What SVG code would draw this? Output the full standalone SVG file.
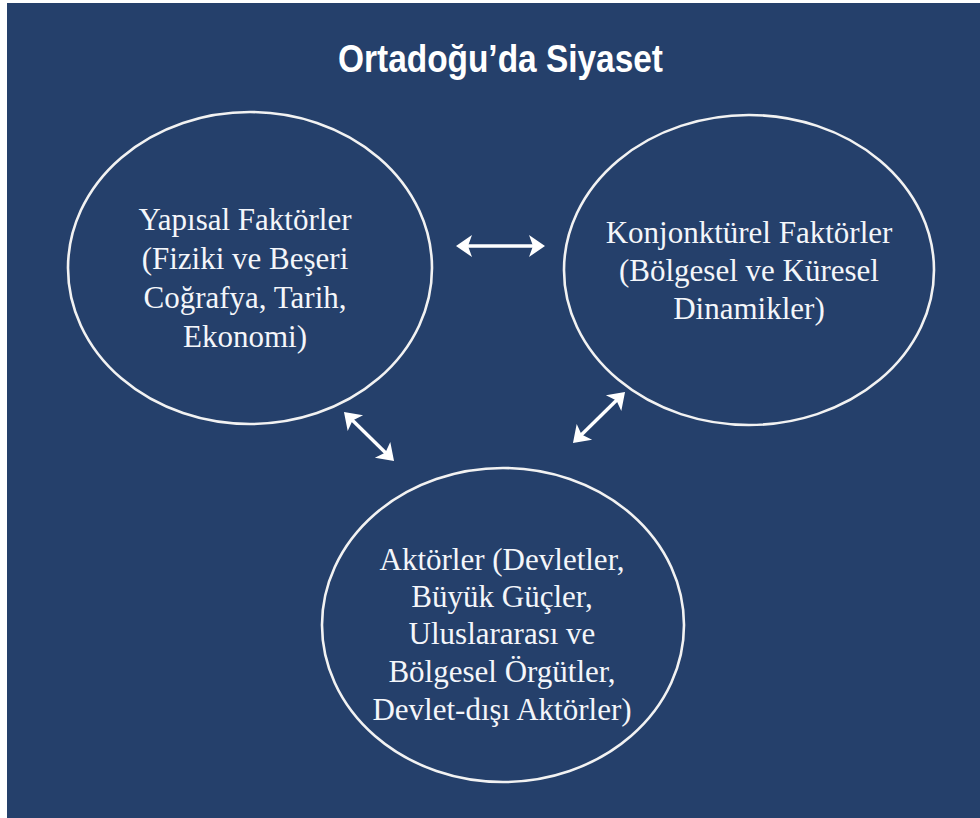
<svg xmlns="http://www.w3.org/2000/svg" width="980" height="818" viewBox="0 0 980 818">
<style>
.bg{fill:#25406b}
.node ellipse{fill:none;stroke:#f2f2f2;stroke-width:2.6}
.lbl{font-family:"Liberation Serif","Times New Roman",serif;font-size:31px;fill:#f4f6fa;text-anchor:middle}
.title{font-family:"Liberation Sans",Arial,sans-serif;font-weight:bold;font-size:38px;fill:#ffffff;text-anchor:middle}
.conn line{stroke:#ffffff;stroke-width:3.4;fill:none}
</style>
<defs>
<marker id="ah" markerUnits="userSpaceOnUse" orient="auto-start-reverse" refX="0" refY="0" markerWidth="30" markerHeight="30" overflow="visible">
<path d="M9,0 L-7,-11 L-3,0 L-7,11 Z" fill="#ffffff"/>
</marker>
</defs>
<rect x="0" y="0" width="980" height="818" fill="#ffffff"/>
<rect class="bg" x="7" y="3" width="973" height="815"/>
<text class="title" x="500.5" y="72" textLength="325" lengthAdjust="spacingAndGlyphs">Ortadoğu’da Siyaset</text>
<g id="node-yapisal" class="node">
<ellipse cx="250" cy="268" rx="182" ry="156"/>
<text class="lbl" x="245" y="230">Yapısal Faktörler</text>
<text class="lbl" x="245" y="269">(Fiziki ve Beşeri</text>
<text class="lbl" x="245" y="308">Coğrafya, Tarih,</text>
<text class="lbl" x="245" y="347">Ekonomi)</text>
</g>
<g id="node-konjonkturel" class="node">
<ellipse cx="749" cy="270" rx="185" ry="155"/>
<text class="lbl" x="749" y="243">Konjonktürel Faktörler</text>
<text class="lbl" x="749" y="281">(Bölgesel ve Küresel</text>
<text class="lbl" x="749" y="319">Dinamikler)</text>
</g>
<g id="node-aktorler" class="node">
<ellipse cx="503" cy="625" rx="181" ry="157"/>
<text class="lbl" x="502" y="570">Aktörler (Devletler,</text>
<text class="lbl" x="502" y="607">Büyük Güçler,</text>
<text class="lbl" x="502" y="644">Uluslararası ve</text>
<text class="lbl" x="502" y="682">Bölgesel Örgütler,</text>
<text class="lbl" x="502" y="720">Devlet-dışı Aktörler)</text>
</g>
<g id="connectors" class="conn">
<line x1="465" y1="246" x2="536" y2="246" marker-start="url(#ah)" marker-end="url(#ah)"/>
<line x1="350.4" y1="418.3" x2="387.6" y2="454.7" marker-start="url(#ah)" marker-end="url(#ah)"/>
<line x1="618.6" y1="398.3" x2="579.4" y2="436.7" marker-start="url(#ah)" marker-end="url(#ah)"/>
</g>
</svg>
